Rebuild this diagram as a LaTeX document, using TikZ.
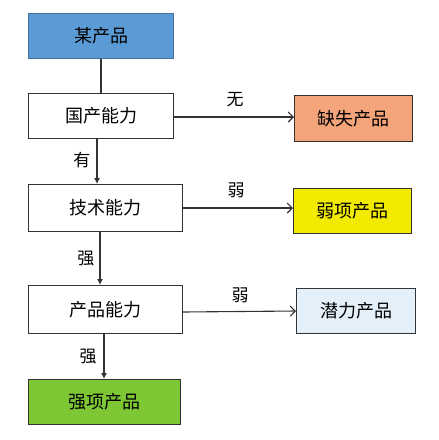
\documentclass[tikz,border=0pt]{standalone}
\usepackage{fontspec}
\setmainfont{Noto Sans CJK SC}
\usetikzlibrary{arrows.meta}
\definecolor{cblue}{HTML}{5B9BD5}
\definecolor{cblueb}{HTML}{41719C}
\definecolor{corange}{HTML}{F4A47A}
\definecolor{cyellow}{HTML}{F2EA00}
\definecolor{clight}{HTML}{E3F0FA}
\definecolor{cgreen}{HTML}{7DC734}
\definecolor{cline}{HTML}{333333}
\tikzset{
  x=1pt, y=-1pt,
  box/.style={draw=cline, line width=1.2pt, inner sep=0pt, font=\fontsize{18}{20}\selectfont},
  lbl/.style={font=\fontsize{17}{19}\selectfont, inner sep=0pt},
  varr/.style={draw=cline, line width=1.1pt, -{Latex[length=6pt,width=6pt]}},
  harr/.style={draw=cline, line width=1.1pt, -{Straight Barb[length=5pt,width=10pt]}},
}
\newcommand{\boxat}[8]{% name, x1,y1,x2,y2, fill, border, text
  \node[box, fill=#6, draw=#7, minimum width={#4-#2}, minimum height={#5-#3}, anchor=north west] (#1) at (#2,#3) {#8};}
\begin{document}
\begin{tikzpicture}
\useasboundingbox (0,0) rectangle (439,440);
\fill[white] (0,0) rectangle (439,440);
\boxat{a}{28}{13}{173}{58}{cblue}{cblueb}{某产品}
\boxat{b}{28}{93}{173}{138}{white}{cline}{国产能力}
\boxat{c}{28}{184}{182}{231}{white}{cline}{技术能力}
\boxat{d}{28}{285}{182}{333}{white}{cline}{产品能力}
\boxat{e}{28}{379}{180}{424}{cgreen}{cline}{强项产品}
\boxat{f}{294}{95}{412}{141}{corange}{cline}{缺失产品}
\boxat{g}{293}{188}{411}{233}{cyellow}{cline}{弱项产品}
\boxat{h}{296}{288}{415}{333}{clight}{cline}{潜力产品}
\draw[draw=cline, line width=1.1pt] (a.south -| 101,0) -- (b.north -| 101,0);
\draw[varr] (b.south -| 97,0) -- (c.north -| 97,0);
\draw[varr] (c.south -| 100,0) -- (d.north -| 100,0);
\draw[varr] (d.south -| 104,0) -- (e.north -| 104,0);
\draw[harr] (b.east |- 0,117) -- (f.west |- 0,117);
\draw[harr] (c.east |- 0,208) -- (g.west |- 0,208);
\draw[harr] (d.east |- 0,312) -- (h.west |- 0,311);
\node[lbl] (l1) at (82,160) {有};
\node[lbl] (l2) at (86,259) {强};
\node[lbl] (l3) at (88,357) {强};
\node[lbl] (l4) at (235,100) {无};
\node[lbl] (l5) at (236,190) {弱};
\node[lbl] (l6) at (240,295) {弱};
\end{tikzpicture}
\end{document}
